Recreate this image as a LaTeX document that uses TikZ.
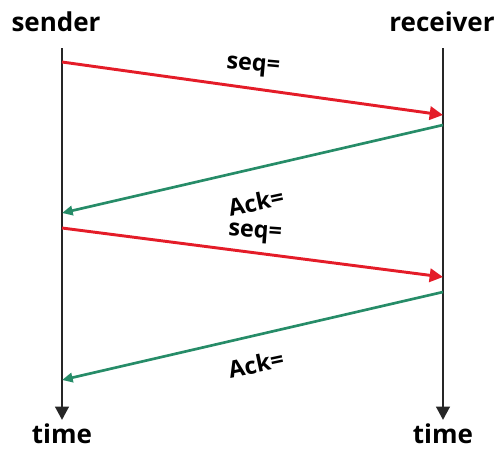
\documentclass[tikz,border=0pt]{standalone}
\usepackage{fontspec}
\setmainfont{Open Sans}
\usetikzlibrary{arrows.meta,
  positioning
}
\definecolor{seqred}{RGB}{228,28,40}
\definecolor{ackgreen}{RGB}{38,140,104}

\begin{document}
\begin{tikzpicture}[x=0.75pt,y=-0.75pt,
        hostnode/.style={font=\bfseries\fontsize{19.5}{21}\selectfont, inner sep=0pt},
        labelnode/.style={font=\bfseries\fontsize{17.5}{19}\selectfont, inner sep=0pt},
        lifeline/.style={draw=black!85, line width=2.2pt, -{Triangle[length=10pt,width=10pt]}},
        seqline/.style={draw=seqred, line width=2.2pt, -{Triangle[length=10pt,width=10pt]}},
        ackline/.style={draw=ackgreen, line width=2pt, -{Triangle[length=8pt,width=7pt]}},
      ]
      \useasboundingbox (0,0) rectangle (496,450);
      % Nodes

      \node[hostnode] (sender) at (56,22) {sender};
      \node[hostnode] (receiver) at (442,22) {receiver};
      \node[hostnode] (time_s) at (62,434) {time};
      \node[hostnode] (time_r) at (443,434) {time};

      \coordinate (s_top) at (62,48);
      \coordinate (r_top) at (443,48);
      \coordinate (s_end) at (62,420);
      \coordinate (r_end) at (443,420);

      \coordinate (s1) at (62,62);
      \coordinate (r1) at (443,115);
      \coordinate (r2) at (443,125);
      \coordinate (s2) at (62,213);
      \coordinate (s3) at (62,228);
      \coordinate (r3) at (443,277);
      \coordinate (r4) at (443,292);
      \coordinate (s4) at (62,380);

      \node[labelnode, rotate=-5] (seq_one) at (253,67) {seq=};
      \node[labelnode, rotate=12] (ack_one) at (256,202) {Ack=};
      \node[labelnode, rotate=-4] (seq_two) at (255,234) {seq=};
      \node[labelnode, rotate=12] (ack_two) at (256,364) {Ack=};

      % Lines
      \draw[lifeline] (s_top) -- (s_end);
      \draw[lifeline] (r_top) -- (r_end);
      \draw[seqline] (s1) -- (r1);
      \draw[ackline] (r2) -- (s2);
      \draw[seqline] (s3) -- (r3);
      \draw[ackline] (r4) -- (s4);
    \end{tikzpicture}
\end{document}
